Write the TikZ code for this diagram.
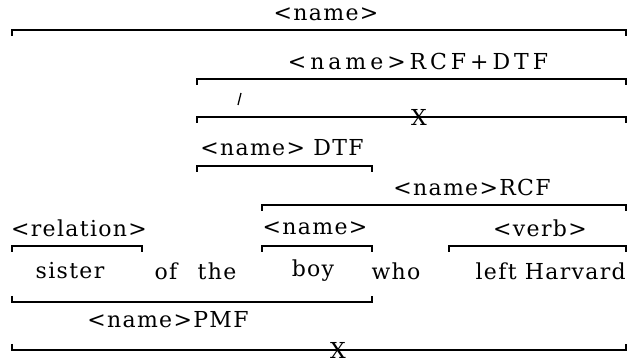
\documentclass[tikz,border=0pt]{standalone}
\usepackage{fontspec}
\setmainfont[LetterSpace=6]{DejaVu Serif}
\begin{document}
\begin{tikzpicture}[x=1pt,y=-1pt,
  brk/.style={line width=1.5pt},
  lbl/.style={inner sep=0pt,font=\fontsize{22}{22}\selectfont},
  wide/.style={inner sep=0pt,font=\fontsize{22}{22}\selectfont\addfontfeatures{LetterSpace=18}}]
\useasboundingbox (0,0) rectangle (638,363);
\newcommand{\brdown}[3]{\draw[brk] (#1,#3+6) -- (#1,#3) -- (#2,#3) -- (#2,#3+6);}
\newcommand{\brup}[3]{\draw[brk] (#1,#3-6) -- (#1,#3) -- (#2,#3) -- (#2,#3-6);}
% top labels
\node[lbl] (tname) at (326,14) {<name>};
\brdown{12}{626}{30}
\node[wide] (trcfdtf) at (418,61) {<name>RCF+DTF};
\brdown{197}{626}{79}
\draw[line width=1.3pt] (238,105) -- (241,93);
\brdown{197}{626}{117}
\node[lbl] (x1) at (419,117) {X};
\node[lbl] (tdtf) at (282,148) {<name> DTF};
\brdown{197}{372}{166}
\node[lbl] (trcf) at (472,187) {<name>RCF};
\brdown{262}{626}{205}
\node[lbl] (trel) at (79,228) {<relation>};
\brdown{12}{142}{246}
\node[lbl] (tnm) at (315,228) {<name>};
\brdown{262}{372}{246}
\node[lbl] (tverb) at (540,228) {<verb>};
\brdown{449}{626}{246}
% words
\node[lbl] (w1) at (70,271) {sister};
\node[lbl] (w2) at (166,271) {of};
\node[lbl] (w3) at (217,271) {the};
\node[lbl] (w4) at (313,271) {boy};
\node[lbl] (w5) at (396,271) {who};
\node[lbl,anchor=east] (w6) at (626,271) {left Harvard};
% bottom
\brup{12}{372}{302}
\node[lbl] (tpmf) at (168,320) {<name>PMF};
\brup{12}{626}{350}
\node[lbl] (x2) at (338,350) {X};
\end{tikzpicture}
\end{document}
